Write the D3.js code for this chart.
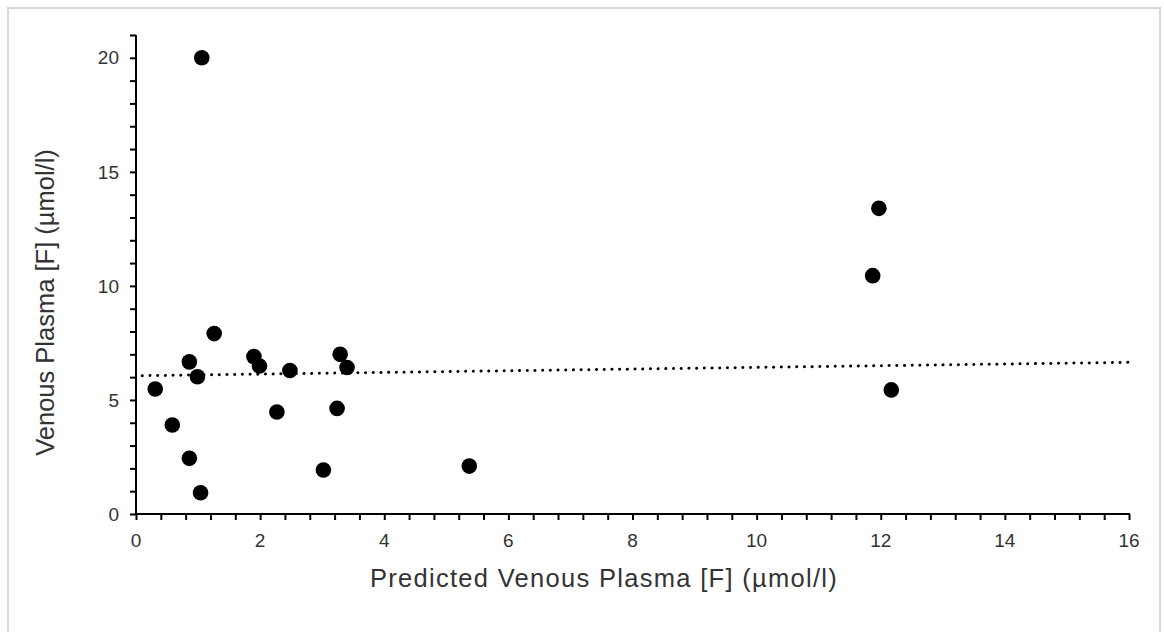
<!DOCTYPE html>
<html>
<head>
<meta charset="utf-8">
<script src="https://cdn.jsdelivr.net/npm/d3@7"></script>
<style>
  html, body { margin: 0; padding: 0; background: #fff; }
  svg { display: block; }
  text { font-family: "Liberation Sans", Arial, sans-serif; }
</style>
</head>
<body>
<svg id="chart" width="1164" height="632"></svg>
<script>
// ---- data ----
const predicted = [0.31, 0.585, 0.86, 0.86, 0.99, 1.04, 1.06, 1.26, 1.90, 1.99, 2.27, 2.48, 3.02, 3.24, 3.29, 3.40, 5.37, 11.87, 11.97, 12.17];
const venous    = [5.48, 3.90, 6.67, 2.44, 6.02, 0.93, 20.0, 7.91, 6.90, 6.49, 4.47, 6.29, 1.93, 4.63, 7.00, 6.42, 2.10, 10.45, 13.4, 5.44];
const xTicks = [0, 2, 4, 6, 8, 10, 12, 14, 16];
const yTicks = [0, 5, 10, 15, 20];
const trendIntercept = 6.06;
const trendSlope = 0.0368;
const trendRange = [0.1, 16];
const xTitle = "Predicted Venous Plasma [F] (µmol/l)";
const yTitle = "Venous Plasma [F] (µmol/l)";

const svg = d3.select("#chart");

// outer border
svg.append("rect")
  .attr("x", 8).attr("y", 8).attr("width", 1152).attr("height", 640)
  .attr("fill", "#fff").attr("stroke", "#d9d9d9").attr("stroke-width", 2);

const x = d3.scaleLinear().domain([0, 16]).range([136, 1129]);
const y = d3.scaleLinear().domain([0, 21]).range([514, 35]);

const axisColor = "#000";
const labelColor = "#333";

// x axis
const xMinor = d3.range(0, 16.0001, 0.4);
const xAxisG = svg.append("g").attr("transform", `translate(0,${y(0)})`);
xAxisG.call(d3.axisBottom(x).tickValues(xMinor).tickSize(6).tickFormat(""))
  .call(g => g.select(".domain").remove())
  .call(g => g.selectAll("line").attr("stroke", axisColor).attr("stroke-width", 2));
xAxisG.append("line").attr("x1", x(0) - 1).attr("x2", x(16) + 1)
  .attr("stroke", axisColor).attr("stroke-width", 2);
xAxisG.selectAll(".xlab").data(xTicks).enter().append("text")
  .attr("x", d => x(d)).attr("y", 33)
  .attr("text-anchor", "middle").attr("font-size", 19).attr("fill", labelColor)
  .text(d => d);

// y axis
const yMinor = d3.range(0, 21.0001, 1);
const yAxisG = svg.append("g").attr("transform", `translate(${x(0)},0)`);
yAxisG.call(d3.axisLeft(y).tickValues(yMinor).tickSize(6).tickFormat(""))
  .call(g => g.select(".domain").remove())
  .call(g => g.selectAll("line").attr("stroke", axisColor).attr("stroke-width", 2));
yAxisG.append("line").attr("y1", y(0) + 1).attr("y2", y(21))
  .attr("stroke", axisColor).attr("stroke-width", 2);
yAxisG.selectAll(".ylab").data(yTicks).enter().append("text")
  .attr("x", -17).attr("y", d => y(d)).attr("dy", "0.35em")
  .attr("text-anchor", "end").attr("font-size", 19).attr("fill", labelColor)
  .text(d => d);

// trendline
svg.append("line")
  .attr("x1", x(trendRange[0])).attr("y1", y(trendIntercept + trendSlope * trendRange[0]))
  .attr("x2", x(trendRange[1])).attr("y2", y(trendIntercept + trendSlope * trendRange[1]))
  .attr("stroke", "#000").attr("stroke-width", 3)
  .attr("stroke-dasharray", "0.1,7.6").attr("stroke-linecap", "round");

// points
svg.append("g").selectAll("circle").data(predicted.map((p, i) => [p, venous[i]]))
  .enter().append("circle")
  .attr("cx", d => x(d[0])).attr("cy", d => y(d[1])).attr("r", 7.8)
  .attr("fill", "#000");

// titles
svg.append("text").attr("x", 604).attr("y", 587)
  .attr("text-anchor", "middle").attr("font-size", 25.5).attr("letter-spacing", 1.3)
  .attr("fill", labelColor)
  .text(xTitle);
svg.append("text").attr("transform", `translate(54,${(y(0) + y(21)) / 2 + 28}) rotate(-90)`)
  .attr("text-anchor", "middle").attr("font-size", 25.5).attr("fill", labelColor)
  .text(yTitle);
</script>
</body>
</html>
